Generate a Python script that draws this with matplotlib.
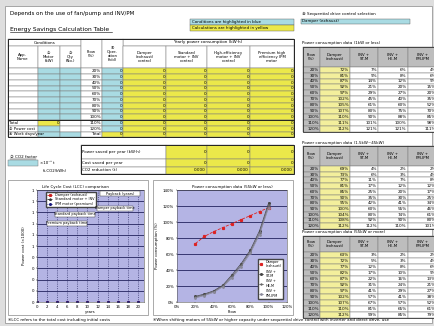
import matplotlib
matplotlib.use("Agg")
import matplotlib.pyplot as plt
from matplotlib.patches import Rectangle

plt.rcParams['font.family'] = ['DejaVu Sans', 'Noto Sans CJK JP']

W, H = 435, 326

# ---------------- data ----------------
flow_labels = ["20%", "30%", "40%", "50%", "60%", "70%", "80%", "90%", "100%", "110%", "120%"]

cond_headers = ["App.\nName", "②\nMotor\n(kW)", "③\nQty\n(No.)", "Flow\n(%)", "④\nOper-\nation\n(h/d)"]
power_headers = ["Damper\n(exhaust)\ncontrol", "Standard\nmotor + INV\ncontrol",
                 "High-efficiency\nmotor + INV\ncontrol", "Premium high\nefficiency IPM\nmotor"]
left_row_labels = ["Total", "⑤ Power cost", "⑥ Work days/year"]

summary_labels = ["Power saved per year (kW·h)", "Cost saved per year", "CO2 reduction (t)"]
summary_values = [["0", "0", "0"], ["0", "0", "0"], ["0.000", "0.000", "0.000"]]

right_headers = ["Flow\n(%)", "Damper\n(exhaust)", "INV +\nST-M", "INV +\nHE-M", "INV +\nPM-IPM"]
table_titles = ["Power consumption data (1kW or less)",
                "Power consumption data (1.5kW~45kW)",
                "Power consumption data (55kW or more)"]
t1_damper = [72, 81, 87, 92, 97, 102, 105, 107, 110, 111, 112]
t1_st = [7, 9, 14, 21, 29, 45, 61, 80, 90, 101, 121]
t1_he = [6, 8, 12, 20, 27, 40, 60, 75, 88, 100, 121]
t1_pm = [4, 6, 9, 15, 20, 35, 52, 70, 85, 98, 111]
t2_damper = [69, 73, 77, 81, 85, 90, 95, 100, 104, 108, 112]
t2_st = [4, 6, 11, 17, 25, 35, 42, 60, 80, 92, 112]
t2_he = [2, 3, 7, 12, 20, 30, 41, 55, 74, 90, 110]
t2_pm = [2, 4, 8, 12, 17, 25, 34, 46, 61, 80, 101]
t3_damper = [63, 72, 77, 82, 87, 92, 97, 102, 107, 110, 112]
t3_st = [3, 5, 12, 17, 22, 31, 41, 57, 67, 81, 99]
t3_he = [2, 3, 8, 10, 16, 24, 29, 41, 57, 65, 85]
t3_pm = [2, 4, 6, 9, 13, 21, 27, 38, 52, 61, 79]

# LCC chart (no inputs -> all zero)
lcc_years = [0, 2, 4, 6, 8, 10, 12, 14, 16, 18, 20]
lcc_damper = [0, 0, 0, 0, 0, 0, 0, 0, 0, 0, 0]
lcc_standard = [0, 0, 0, 0, 0, 0, 0, 0, 0, 0, 0]
lcc_ipm = [0, 0, 0, 0, 0, 0, 0, 0, 0, 0, 0]
lcc_ytick_labels = ["0", "0", "0", "0", "0", "1", "1", "1", "1", "1", "1"]

# Power consumption chart
pc_flow = [20, 30, 40, 50, 60, 70, 80, 90, 100]
pc_damper = [73, 82, 88, 93, 98, 103, 108, 113, 118]
pc_inv_st = [7, 10, 14, 21, 34, 48, 65, 89, 124]
pc_inv_he = [6, 9, 13, 20, 32, 46, 63, 86, 121]
pc_inv_pm = [5, 8, 12, 19, 30, 44, 61, 84, 118]

# ---------------- style ----------------
YEL = '#ebe84a'
BLUE = '#a9dbe3'
GREY = '#bdbdbd'
LYEL = '#f3ef9c'
LAV = '#b4b4e4'
NAVY = '#23235e'
EDGE = '#7a7a7a'
FS = 3.0

fig = plt.figure(figsize=(W / 100, H / 100), dpi=100, facecolor='#dedede')
ax = fig.add_axes([0, 0, 1, 1])
ax.set_xlim(0, W)
ax.set_ylim(H, 0)
ax.axis('off')


def rect(x0, y0, x1, y1, fc='white', ec=EDGE, lw=0.35, z=1):
    ax.add_patch(Rectangle((x0, y0), x1 - x0, y1 - y0, fc=fc, ec=ec, lw=lw, zorder=z))


def txt(x, y, s, fs=FS, ha='left', va='center', **kw):
    ax.text(x, y, s, fontsize=fs, ha=ha, va=va, zorder=5, linespacing=1.0, **kw)


# sheet
rect(5, 6, 432, 323, fc='white', ec='#9a9a9a', lw=0.6, z=0)

txt(10, 14, "Depends on the use of fan/pump and INV/PM", fs=4.0)
txt(10, 29, "Energy Savings Calculation Table", fs=4.3)
ax.plot([10, 112], [32.3, 32.3], color='k', lw=0.4)
rect(190, 18.5, 294, 24.5, fc=BLUE, ec='#555555', lw=0.3)
txt(192, 21.5, "Conditions are highlighted in blue", fs=2.9)
rect(190, 24.5, 294, 30.5, fc=YEL, ec='#555555', lw=0.3)
txt(192, 27.5, "Calculations are highlighted in yellow", fs=2.9)

# ---------------- left table ----------------
xs = [8, 37.7, 60, 81, 102, 123, 166, 207, 250, 294]
y_top, y_grp, y_hb = 39.3, 45.7, 68.3
rh = 5.75
nrows = 12

rect(8, y_top, 81, y_grp)
txt(44.5, (y_top + y_grp) / 2, "Conditions", ha='center')
rect(123, y_top, 294, y_grp)
txt(208, (y_top + y_grp) / 2, "Yearly power consumption (kW·h)", ha='center')
for i, h in enumerate(cond_headers):
    if i in (3, 4):
        rect(xs[i], y_top, xs[i + 1], y_hb)
        txt((xs[i] + xs[i + 1]) / 2, (y_top + y_hb) / 2, h, ha='center', fs=2.8)
    else:
        rect(xs[i], y_grp, xs[i + 1], y_hb)
        txt((xs[i] + xs[i + 1]) / 2, (y_grp + y_hb) / 2, h, ha='center', fs=2.8)
for i, h in enumerate(power_headers):
    rect(xs[5 + i], y_grp, xs[6 + i], y_hb)
    txt((xs[5 + i] + xs[6 + i]) / 2, (y_grp + y_hb) / 2, h, ha='center', fs=2.8)

for r in range(nrows):
    y0 = y_hb + r * rh
    y1 = y0 + rh
    yc = (y0 + y1) / 2
    # app name
    rect(xs[0], y0, xs[1], y1)
    if r >= 9:
        txt(xs[0] + 1, yc, left_row_labels[r - 9], fs=2.8)
    # motor
    if r == 9:
        rect(xs[1], y0, xs[2], y1, fc=YEL)
        txt(xs[2] - 1, yc, "0", ha='right')
    else:
        rect(xs[1], y0, xs[2], y1, fc=BLUE)
    # qty
    rect(xs[2], y0, xs[3], y1, fc=BLUE if (r < 9 or r == 11) else 'white')
    # flow
    rect(xs[3], y0, xs[4], y1)
    txt(xs[4] - 1, yc, flow_labels[r] if r < 11 else "Total", ha='right')
    # operation time
    rect(xs[4], y0, xs[5], y1, fc=BLUE if r < 11 else YEL)
    txt(xs[5] - 1, yc, "0", ha='right')
    for c in range(5, 9):
        rect(xs[c], y0, xs[c + 1], y1, fc=YEL)
        txt(xs[c + 1] - 1, yc, "0", ha='right')
ax.add_patch(Rectangle((8, y_top), 286, y_hb + nrows * rh - y_top, fc='none', ec='#222222', lw=0.7, zorder=4))
ax.plot([8, 294], [y_hb + 9 * rh] * 2, color='#222222', lw=0.7, zorder=4)

# CO2 factor
txt(10, 157, "⑦ CO2 factor", fs=3.0)
ax.plot([10, 36], [159, 159], color='k', lw=0.3)
rect(8, 160, 38, 166, fc=BLUE)
txt(40, 163, "×10⁻³ t", fs=2.8)
txt(43, 171, "(t-CO2/kWh)", fs=2.8)

# summary table
sx = [81, 166, 207, 250, 294]
sy = [145, 159, 166.5, 174]
for r in range(3):
    rect(sx[0], sy[r], sx[1], sy[r + 1])
    txt(sx[0] + 1.5, (sy[r] + sy[r + 1]) / 2, summary_labels[r], fs=2.9)
    for c in range(3):
        rect(sx[c + 1], sy[r], sx[c + 2], sy[r + 1], fc=YEL)
        txt(sx[c + 2] - 1, (sy[r] + sy[r + 1]) / 2, summary_values[r][c], ha='right')
ax.add_patch(Rectangle((81, 145), 213, 29, fc='none', ec='#222222', lw=0.7, zorder=4))

# ---------------- right tables ----------------
txt(302, 14, "⑧ Sequential drive control selection", fs=3.0)
rect(301, 18.5, 410, 24, fc=BLUE, ec='#555555', lw=0.3)
txt(302, 21.2, "Damper (exhaust)", fs=2.9)

rx = [303, 320, 350, 378, 407.7, 437]
tables = [
    (42.7, 46.7, 66.7, 5.9, t1_damper, t1_st, t1_he, t1_pm),
    (142.7, 146.0, 166.0, 5.73, t2_damper, t2_st, t2_he, t2_pm),
    (231.5, 236.0, 252.0, 6.0, t3_damper, t3_st, t3_he, t3_pm),
]
for ti, (ty, hy0, hy1, trh, dmp, st, he, pm) in enumerate(tables):
    txt(302, ty, table_titles[ti], fs=2.9)
    for c in range(5):
        rect(rx[c], hy0, rx[c + 1], hy1, fc=GREY)
        txt((rx[c] + rx[c + 1]) / 2, (hy0 + hy1) / 2, right_headers[c], ha='center', fs=2.8)
    cols = [dmp, st, he, pm]
    for r in range(11):
        y0 = hy1 + r * trh
        y1 = y0 + trh
        yc = (y0 + y1) / 2
        rect(rx[0], y0, rx[1], y1, fc=GREY)
        txt(rx[1] - 1, yc, flow_labels[r], ha='right')
        for c in range(4):
            rect(rx[c + 1], y0, rx[c + 2], y1, fc=LYEL if c == 0 else 'white')
            txt(rx[c + 2] - 1.2, yc, f"{cols[c][r]}%", ha='right')
    ax.add_patch(Rectangle((rx[0], hy0), 140, hy1 + 11 * trh - hy0, fc='none', ec='#333333', lw=0.6, zorder=4))

# chart panels
rect(8, 180, 148, 315, fc='white', ec='#888888', lw=0.5)
rect(153, 180, 293, 315, fc='white', ec='#888888', lw=0.5)

# footnotes
txt(8, 320, "※LCC refers to the total cost including initial costs", fs=2.9)
txt(153, 320, "※When shifting motors of 55kW or higher capacity under sequential drive control with inverter and direct drive, use",
    fs=2.9)


def fax(x0, y0, x1, y1):
    return fig.add_axes([x0 / W, 1 - y1 / H, (x1 - x0) / W, (y1 - y0) / H])


# ---------------- LCC chart ----------------
a1 = fax(37, 190, 144, 302)
a1.set_facecolor(LAV)
a1.plot(lcc_years, lcc_damper, color='#cc2222', marker='s', ms=1.2, lw=0.6, ls='--', label="Damper (exhaust)")
a1.plot(lcc_years, lcc_standard, color='#333333', marker='^', ms=1.2, lw=0.6, ls='-.', label="Standard motor + INV")
a1.plot(lcc_years, lcc_ipm, color='#1a1a80', marker='o', ms=1.2, lw=0.6, ls=':', label="IPM motor (premium)")
a1.set_xlim(0, 21.2)
a1.set_ylim(0, 1)
a1.set_yticks([i / 10 for i in range(11)])
a1.set_yticklabels(lcc_ytick_labels)
a1.set_xticks(lcc_years)
a1.tick_params(labelsize=2.8, length=1, width=0.3, pad=1)
a1.grid(axis='y', color=NAVY, lw=0.6)
a1.grid(axis='x', color=NAVY, lw=0.4, ls=(0, (2, 2)))
for s in a1.spines.values():
    s.set_color('#555555')
    s.set_linewidth(0.4)
a1.set_xlabel("years", fontsize=2.8, labelpad=1)
a1.set_ylabel("Power cost (×1000)", fontsize=2.8, labelpad=4)
a1.set_title("Life Cycle Cost (LCC) comparison", fontsize=2.9, pad=1.5, loc='left', x=0.05)
a1.legend(loc='upper left', bbox_to_anchor=(0.07, 1.0), fontsize=2.5, handlelength=1.5,
          frameon=True, framealpha=1, edgecolor='#444444', borderpad=0.3, labelspacing=0.2, fancybox=False)

# ---------------- power consumption chart ----------------
a2 = fax(177, 190, 287, 302)
a2.set_facecolor(LAV)
a2.plot(pc_flow, pc_damper, color='#dd2222', marker='s', ms=1.3, lw=0.6, ls='--', label="Damper\n(exhaust)")
a2.plot(pc_flow, pc_inv_st, color='#444444', marker='x', ms=1.5, lw=0.5, label="INV +\nST-M")
a2.plot(pc_flow, pc_inv_he, color='#666666', marker='+', ms=1.5, lw=0.5, label="INV +\nHE-M")
a2.plot(pc_flow, pc_inv_pm, color='#8a8a9a', marker='o', ms=1.0, mfc='none', lw=0.5, label="INV +\nPM-IPM")
a2.set_xlim(0, 120)
a2.set_ylim(0, 140)
a2.set_xticks([0, 20, 40, 60, 80, 100, 120])
a2.set_xticklabels(["0%", "20%", "40%", "60%", "80%", "100%", "120%"])
a2.set_yticks([0, 20, 40, 60, 80, 100, 120, 140])
a2.set_yticklabels(["0%", "20%", "40%", "60%", "80%", "100%", "120%", "140%"])
a2.tick_params(labelsize=2.8, length=1, width=0.3, pad=1)
a2.grid(axis='y', color=NAVY, lw=0.6)
for s in a2.spines.values():
    s.set_color('#555555')
    s.set_linewidth(0.4)
a2.set_xlabel("Flow", fontsize=2.8, labelpad=1)
a2.set_ylabel("Power consumption (%)", fontsize=2.8, labelpad=3)
a2.set_title("Power consumption data (55kW or less)", fontsize=2.9, pad=1.5)
a2.legend(loc='lower left', bbox_to_anchor=(0.725, 0.015), fontsize=2.4, handlelength=1.2,
          frameon=True, framealpha=1, edgecolor='#444444', borderpad=0.3, labelspacing=0.35, fancybox=False)

# annotation boxes on top of the LCC chart
ov = fig.add_axes([0, 0, 1, 1], zorder=10)
ov.set_xlim(0, W)
ov.set_ylim(H, 0)
ov.axis('off')
boxes = [(100, 191, 140, 196, "Payback (years)"), (97, 205.5, 133, 210.5, "Damper payback time"),
         (55, 212, 95, 217, "Standard payback time"), (47, 220.5, 87, 225.5, "Premium payback time")]
for x0, y0, x1, y1, s in boxes:
    ov.add_patch(Rectangle((x0, y0), x1 - x0, y1 - y0, fc='white', ec='#444444', lw=0.35))
    ov.text((x0 + x1) / 2, (y0 + y1) / 2, s, fontsize=2.5, ha='center', va='center')

fig.savefig("out.png", dpi=100, facecolor=fig.get_facecolor())
